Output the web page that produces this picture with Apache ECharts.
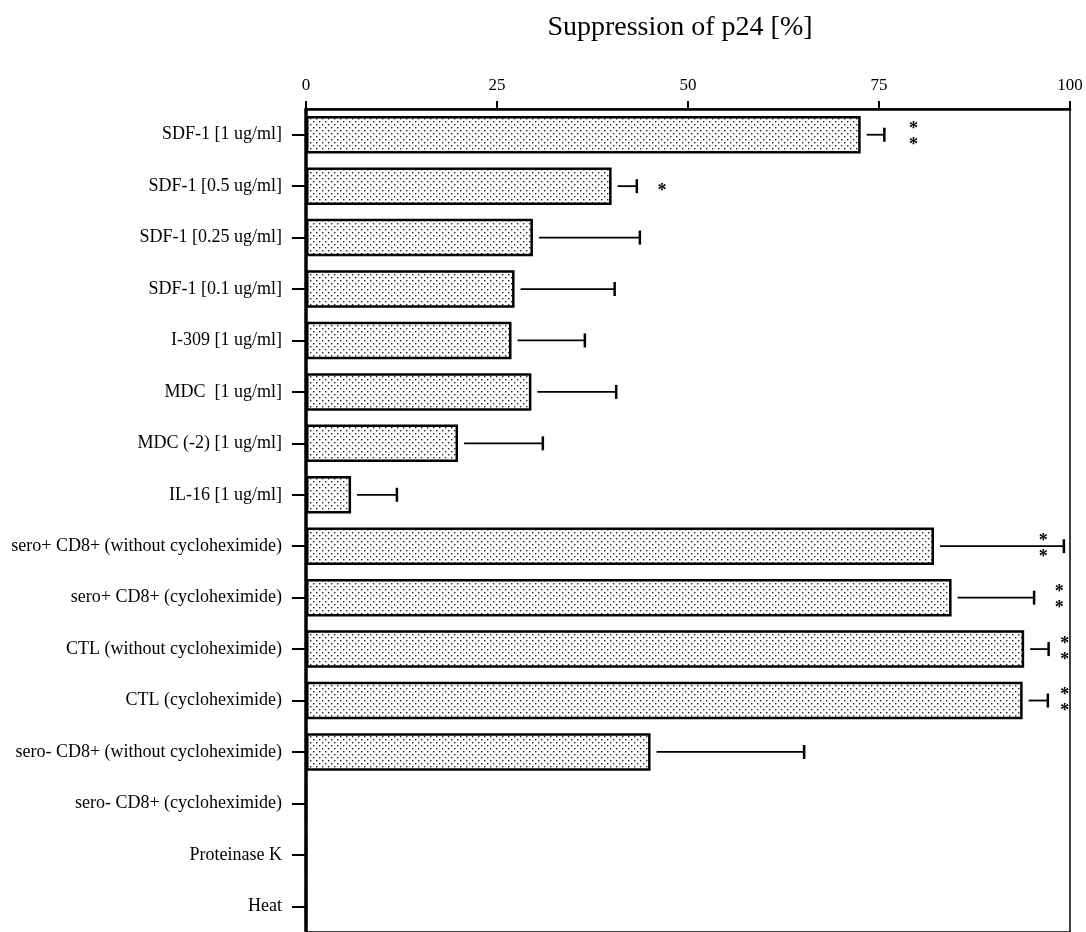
<!DOCTYPE html>
<html>
<head>
<meta charset="utf-8">
<script src="https://cdn.jsdelivr.net/npm/echarts@6/dist/echarts.min.js"></script>
<style>
  html, body { margin: 0; padding: 0; background: #fff; }
  #chart { width: 1086px; height: 932px; }
</style>
</head>
<body>
<div id="chart"></div>
<script>
// Data
const categories = [
  'SDF-1 [1 ug/ml]',
  'SDF-1 [0.5 ug/ml]',
  'SDF-1 [0.25 ug/ml]',
  'SDF-1 [0.1 ug/ml]',
  'I-309 [1 ug/ml]',
  'MDC  [1 ug/ml]',
  'MDC (-2) [1 ug/ml]',
  'IL-16 [1 ug/ml]',
  'sero+ CD8+ (without cycloheximide)',
  'sero+ CD8+ (cycloheximide)',
  'CTL (without cycloheximide)',
  'CTL (cycloheximide)',
  'sero- CD8+ (without cycloheximide)',
  'sero- CD8+ (cycloheximide)',
  'Proteinase K',
  'Heat'
];
const suppression = [72.6, 40.0, 29.7, 27.3, 26.9, 29.5, 19.9, 5.9, 82.2, 84.5, 94.0, 93.8, 45.1, 0, 0, 0];
const errorUpper = [75.7, 43.3, 43.7, 40.4, 36.5, 40.6, 31.0, 11.9, 99.2, 95.3, 97.2, 97.1, 65.2, null, null, null];
const starCount = [2, 1, 0, 0, 0, 0, 0, 0, 2, 2, 2, 2, 0, 0, 0, 0];
const starPos = [79.5, 46.6, null, null, null, null, null, null, 96.5, 98.6, 99.3, 99.3, null, null, null, null];
const xTicks = [0, 25, 50, 75, 100];

const font = '"Liberation Serif", "Times New Roman", serif';

// dotted fill like the printed screen
function dotPattern() {
  const c = document.createElement('canvas');
  c.width = 6; c.height = 6;
  const ctx = c.getContext('2d');
  ctx.fillStyle = '#fff';
  ctx.fillRect(0, 0, 6, 6);
  ctx.fillStyle = '#222';
  ctx.fillRect(1, 1, 1.4, 1.4);
  ctx.fillRect(4, 4, 1.4, 1.4);
  return c;
}

const chart = echarts.init(document.getElementById('chart'));

const errData = errorUpper.map((v, i) => [suppression[i], i, v]).filter(d => d[2] != null);
const starData = starPos.map((v, i) => [v, i, starCount[i]]).filter(d => d[0] != null);

chart.setOption({
  animation: false,
  backgroundColor: '#fff',
  title: {
    text: 'Suppression of p24 [%]',
    left: 675,
    top: 9,
    textAlign: 'center',
    textStyle: { fontFamily: font, fontSize: 28, fontWeight: 'normal', color: '#000' }
  },
  grid: {
    left: 306, right: 16, top: 109, height: 827,
    show: true, borderColor: '#000', borderWidth: 1.5, backgroundColor: 'transparent'
  },
  xAxis: {
    type: 'value',
    position: 'top',
    min: 0, max: 100, interval: 25,
    axisLine: { show: true, lineStyle: { color: '#000', width: 2.5 } },
    axisTick: { show: true, length: 8, lineStyle: { color: '#000', width: 2 } },
    axisLabel: {
      margin: 15, color: '#000', fontFamily: font, fontSize: 17,
      formatter: v => xTicks.includes(v) ? String(v) : ''
    },
    splitLine: { show: false }
  },
  yAxis: {
    type: 'category',
    data: categories,
    inverse: true,
    axisLine: { show: true, lineStyle: { color: '#000', width: 3.5 } },
    axisTick: { show: true, alignWithLabel: true, length: 14, lineStyle: { color: '#000', width: 2 } },
    axisLabel: { margin: 24, color: '#000', fontFamily: font, fontSize: 18 },
    splitLine: { show: false }
  },
  series: [
    {
      type: 'bar',
      data: suppression,
      barWidth: '73%',
      itemStyle: {
        color: { image: dotPattern(), repeat: 'repeat' },
        borderColor: '#000',
        borderWidth: 2.5
      },
      z: 2
    },
    {
      type: 'custom',
      data: errData,
      renderItem: (params, api) => {
        const start = api.coord([api.value(0), api.value(1)]);
        const end = api.coord([api.value(2), api.value(1)]);
        const x0 = start[0] + 6;
        const y = start[1];
        return {
          type: 'group',
          children: [
            { type: 'line', shape: { x1: x0, y1: y, x2: end[0], y2: y }, style: { stroke: '#000', lineWidth: 1.8 } },
            { type: 'line', shape: { x1: end[0], y1: y - 7, x2: end[0], y2: y + 7 }, style: { stroke: '#000', lineWidth: 2.5 } }
          ]
        };
      },
      z: 3
    },
    {
      type: 'custom',
      data: starData,
      renderItem: (params, api) => {
        const p = api.coord([api.value(0), api.value(1)]);
        const n = api.value(2);
        const offsets = n === 2 ? [-5, 11] : [5];
        return {
          type: 'group',
          children: offsets.map(dy => ({
            type: 'text',
            style: {
              x: p[0], y: p[1] + dy, text: '*',
              fontFamily: font, fontSize: 18, fontWeight: 'bold', fill: '#000',
              align: 'center', verticalAlign: 'middle'
            }
          }))
        };
      },
      z: 3
    }
  ]
});
</script>
</body>
</html>
